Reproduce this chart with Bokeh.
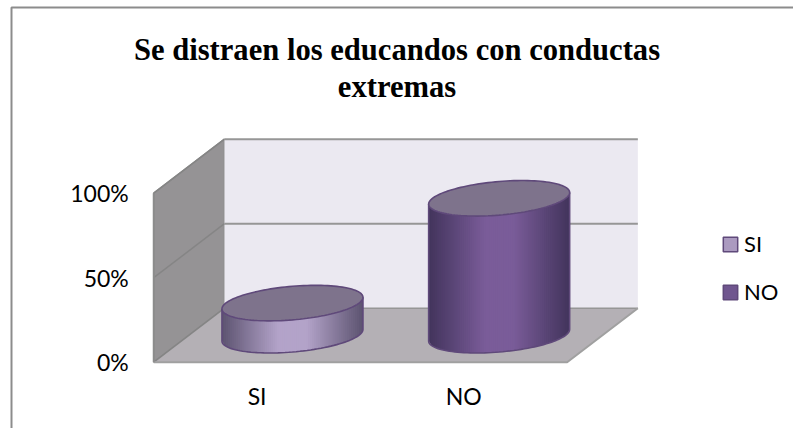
from bokeh.plotting import figure
from bokeh.embed import file_html
from bokeh.resources import INLINE
from bokeh.models import Range1d, LinearAxis, FixedTicker, Legend, LegendItem
from bokeh.core.properties import value
import numpy as np

categories = ["SI", "NO"]
percent = [19, 81]
y_ticks = [0, 50, 100]
y_tick_labels = ["0%", "50%", "100%"]
title_lines = ["Se distraen los educandos con conductas", "extremas"]

W, H = 793, 428
PX = 206.7   # px per category
PY = 1.69    # px per percent
X0, Y0 = 256.6, 361.7   # canvas position of category 0 / 0%
xr = Range1d(-X0 / PX, (W - X0) / PX)
yr = Range1d((Y0 - H) / PY, Y0 / PY)

p = figure(width=W, height=H, x_range=xr, y_range=yr, output_backend="svg",
           toolbar_location=None, x_axis_type=None, y_axis_type=None,
           min_border=0, outline_line_color=None, background_fill_color="white")
p.grid.visible = False

DX, DY = 70.7 / PX, 54 / PY        # depth of the 3D box
XL, XR = -0.5, 1.5                 # front floor extents
YTOP = 100

# left wall, back wall, floor
p.patch([XL, XL + DX, XL + DX, XL], [0, DY, YTOP + DY, YTOP], fill_color="#959395", line_color="#8c8c8c", line_width=1.5)
p.patch([XL + DX, XR + DX, XR + DX, XL + DX], [DY, DY, YTOP + DY, YTOP + DY], fill_color="#ebe9f1", line_color=None)
p.patch([XL, XR, XR + DX, XL + DX], [0, 0, DY, DY], fill_color="#b4b0b5", line_color=None)

# grid
for t in y_ticks:
    p.line([XL, XL + DX], [t, t + DY], line_color="#858585", line_width=1.5)
    p.line([XL + DX, XR + DX], [t + DY, t + DY], line_color="#969696", line_width=2 if t else 1.5)
p.line([XL, XR, XR + DX], [0, 0, DY], line_color="#a0a0a0", line_width=2)
p.line([XL, XL], [0, YTOP], line_color="#8c8c8c", line_width=2)

# outer chart border
OL, OT = 11 / PX + xr.start, yr.end - 7 / PY
p.line([OL, OL, xr.end], [yr.start, OT, OT], line_color="#8c8c8c", line_width=2)

RX, TILT, RY = 70.5 / PX, 5.8 / PY, 16.8 / PY
STRIPS = 72
edge_side = ["#5d5370", "#42345c"]
mid_side = ["#b3a3c9", "#7a5c99"]
top_fill = ["#7e738c", "#7e738c"]
outline = "#5f497a"

def hex2(c):
    return np.array([int(c[i:i + 2], 16) for i in (1, 3, 5)], float)

def ell(cx, cy, t):
    return cx + RX * np.cos(t), cy + TILT * np.cos(t) + RY * np.sin(t)

for i, (name, v) in enumerate(zip(categories, percent)):
    cx, base = i + DX / 2, DY / 2
    ts = 2 * np.pi - np.arccos(np.linspace(-1, 1, STRIPS + 1))
    xs, ys, cols = [], [], []
    for k in range(STRIPS):
        t0, t1 = ts[k], ts[min(k + 2, STRIPS)]   # overlap next strip to hide seams
        bx0, by0 = ell(cx, base, t0); bx1, by1 = ell(cx, base, t1)
        tx0, ty0 = ell(cx, base + v, t0); tx1, ty1 = ell(cx, base + v, t1)
        xs.append([bx0, bx1, tx1, tx0]); ys.append([by0, by1, ty1, ty0])
        f = 1 - abs(2 * (k + .5) / STRIPS - 1)
        f = min(1, f * 1.25)
        c = hex2(edge_side[i]) * (1 - f) + hex2(mid_side[i]) * f
        cols.append("#%02x%02x%02x" % tuple(int(round(a)) for a in c))
    p.patches(xs, ys, fill_color=cols, line_color=None)
    # silhouette
    tt = np.linspace(0, 2 * np.pi, 121)
    lo = tt[60:]
    bx, by = ell(cx, base, lo)
    tx, ty = ell(cx, base + v, lo)
    p.line(list(tx[:1]) + list(bx) + list(tx[-1:]), list(ty[:1]) + list(by) + list(ty[-1:]),
           line_color=outline, line_width=1.6)
    ex, ey = ell(cx, base + v, tt)
    p.patch(ex, ey, fill_color=top_fill[i], line_color=outline, line_width=1.6)

# axes placed in the frame
FONT = "Lato"
ya = LinearAxis(fixed_location=XL, ticker=FixedTicker(ticks=y_ticks),
                major_label_overrides={t: l for t, l in zip(y_ticks, y_tick_labels)})
xa = LinearAxis(fixed_location=0, ticker=FixedTicker(ticks=[0, 1]),
                major_label_overrides={0: categories[0], 1: categories[1]})
for a in (ya, xa):
    a.axis_line_color = None
    a.major_tick_line_color = None
    a.minor_tick_line_color = None
    a.major_label_text_font = FONT
    a.major_label_text_font_size = "23px"
    a.major_label_text_color = "black"
ya.major_label_standoff = 19
xa.major_label_standoff = 14
p.add_layout(ya, "left")
p.add_layout(xa, "below")

# title
title_y = [(Y0 - 49) / PY, (Y0 - 86) / PY]
p.text([(396.5 - X0) / PX] * 2, title_y, text=title_lines, text_font=value("Liberation Serif"),
       text_font_style="bold", text_font_size="30.6px", text_align="center", text_baseline="alphabetic", text_color="black")

# legend
leg_cols = ["#ab9ac0", "#70568f"]
nan = float("nan")
rs = [p.quad(left=[nan], right=[nan], top=[nan], bottom=[nan], fill_color=c, line_color=outline, line_width=1.5) for c in leg_cols]
legend = Legend(items=[LegendItem(label=n, renderers=[r]) for n, r in zip(categories, rs)],
                location=(721, H - 305), orientation="vertical",
                background_fill_alpha=0, border_line_color=None,
                glyph_width=18, glyph_height=18, spacing=21, label_text_font=FONT, label_text_font_size="22px",
                label_standoff=5, padding=0, margin=0, label_text_color="black")
p.add_layout(legend)

open("out.html", "w").write(file_html(p, INLINE))
